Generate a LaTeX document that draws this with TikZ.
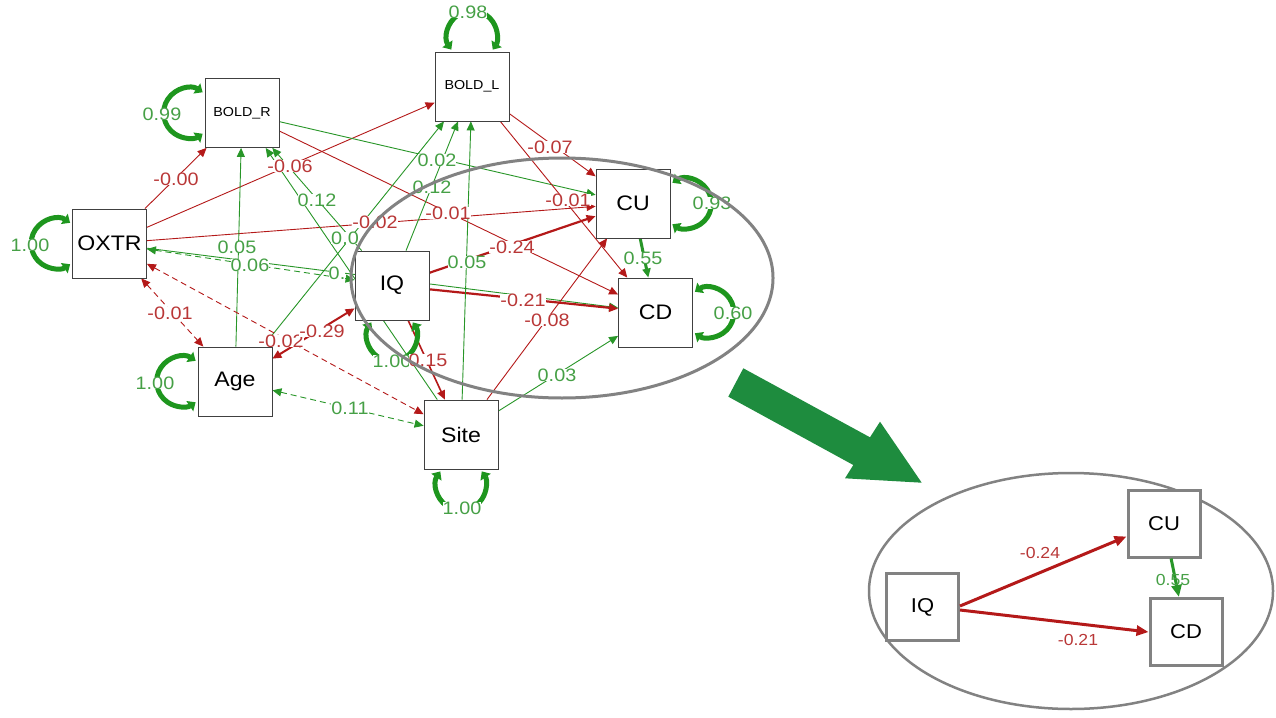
\documentclass[tikz,border=0pt]{standalone}
\usepackage{fontspec}
\setmainfont{Liberation Sans}[FakeStretch=1.1]
\usetikzlibrary{arrows.meta}
\definecolor{edgered}{RGB}{180,25,25}
\definecolor{labred}{RGB}{185,55,55}
\definecolor{edgegreen}{RGB}{40,150,40}
\definecolor{labgreen}{RGB}{70,160,70}
\definecolor{loopgreen}{RGB}{30,150,30}
\definecolor{bigarrow}{RGB}{30,140,62}
\definecolor{ellgray}{RGB}{130,130,130}
\pgfdeclarelayer{edges}
\pgfdeclarelayer{labels}
\pgfdeclarelayer{top}
\pgfsetlayers{edges,labels,main,top}
\begin{document}
\begin{tikzpicture}[x=1pt,y=-1pt,
  varbox/.style={draw=black!75, line width=0.8pt, fill=white, minimum width=74pt, minimum height=69pt, inner sep=0pt, font=\fontsize{21}{21}\selectfont},
  smallbox/.style={varbox, font=\fontsize{13}{13}\selectfont},
  insetbox/.style={draw=ellgray, line width=3pt, fill=white, minimum width=72pt, minimum height=67pt, inner sep=0pt, font=\fontsize{20}{20}\selectfont},
  regarr/.style={-{Triangle[length=9pt,width=8pt]}, line width=0.9pt},
  covarr/.style={{Triangle[length=9pt,width=8pt]}-{Triangle[length=9pt,width=8pt]}, dash pattern=on 6pt off 4pt, line width=0.9pt},
  bicov/.style={{Triangle[length=9pt,width=8pt]}-{Triangle[length=9pt,width=8pt]}},
  posedge/.style={draw=edgegreen},
  negedge/.style={draw=edgered},
  elab/.style={fill=white, inner sep=0pt, font=\fontsize{18}{18}\selectfont},
  plab/.style={elab, text=labgreen},
  nlab/.style={elab, text=labred},
  looplab/.style={fill=white, inner sep=0pt, text=labgreen, font=\fontsize{18}{18}\selectfont},
  loopst/.style={draw=loopgreen, line width=5pt, {Triangle[length=7pt,width=12pt]}-{Triangle[length=7pt,width=12pt]}},
  insetarr/.style={-{Triangle[length=12pt,width=10pt]}, line width=3pt},
  inlab/.style={inner sep=0.5pt, font=\fontsize{16}{16}\selectfont},
]
\useasboundingbox (0,0) rectangle (1276,717);
\begin{pgfonlayer}{edges}
\fill[white] (0,0) rectangle (1276,717);
\end{pgfonlayer}

% main nodes
\node[smallbox] (BR) at (242,113) {BOLD\_R};
\node[smallbox] (BL) at (472,86.5) {BOLD\_L};
\node[varbox] (OX) at (109.5,243.5) {OXTR};
\node[varbox] (AGE) at (235,381.5) {Age};
\node[varbox] (IQ) at (392,285.5) {IQ};
\node[varbox] (SITE) at (461,434.5) {Site};
\node[varbox] (CU) at (633,203.5) {CU};
\node[varbox] (CD) at (655.5,312.5) {CD};

\begin{pgfonlayer}{edges}
% regressions
\draw[regarr,negedge] (OX) -- (BR);
\draw[regarr,negedge] (OX) -- (BL);
\draw[regarr,negedge] (OX) -- (CU);
\draw[regarr,posedge] (OX) -- (CD);
\draw[regarr,posedge] (BR) -- (CU);
\draw[regarr,negedge] (BR) -- (CD);
\draw[regarr,negedge] (BL) -- (CU);
\draw[regarr,negedge] (BL) -- (CD);
\draw[regarr,negedge,line width=2.2pt] (IQ) -- (CU);
\draw[regarr,negedge,line width=2.2pt] (IQ) -- (CD);
\draw[regarr,posedge] (IQ) -- (BR);
\draw[regarr,posedge] (IQ) -- (BL);
\draw[regarr,posedge] (AGE) -- (BR);
\draw[regarr,posedge] (AGE) -- (BL);
\draw[regarr,posedge] (SITE) -- (BR);
\draw[regarr,posedge] (SITE) -- (BL);
\draw[regarr,negedge] (SITE) -- (CU);
\draw[regarr,posedge] (SITE) -- (CD);
\draw[regarr,posedge,line width=3pt] (CU) -- (CD);
\draw[regarr,negedge,line width=1.6pt] (IQ) -- (SITE);
% covariances
\draw[covarr,posedge] (OX) -- (IQ);
\draw[covarr,negedge] (OX) -- (AGE);
\draw[covarr,negedge] (OX) -- (SITE);
\draw[covarr,posedge] (AGE) -- (SITE);
\draw[bicov,negedge,line width=2pt] (AGE) -- (IQ);
% residual loops
\draw[loopst] ([shift={(-2,-20.7)}]BR.west) arc[start angle=-56,end angle=-304,radius=25];
\draw[loopst] ([shift={(-2,-20.7)}]OX.west) arc[start angle=-56,end angle=-304,radius=25];
\draw[loopst] ([shift={(-2,-20.7)}]AGE.west) arc[start angle=-56,end angle=-304,radius=25];
\draw[loopst] ([shift={(2,-20.7)}]CU.east) arc[start angle=-124,end angle=124,radius=25];
\draw[loopst] ([shift={(2,-20.7)}]CD.east) arc[start angle=-124,end angle=124,radius=25];
\draw[loopst] ([shift={(-20.7,-2)}]BL.north) arc[start angle=146,end angle=394,radius=25];
\draw[loopst] ([shift={(-20.7,2)}]IQ.south) arc[start angle=214,end angle=-34,radius=25];
\draw[loopst] ([shift={(-20.7,2)}]SITE.south) arc[start angle=214,end angle=-34,radius=25];
\end{pgfonlayer}

\begin{pgfonlayer}{labels}
\node[nlab] (l1) at (176,179) {-0.00};
\node[nlab] (l2) at (290,166) {-0.06};
\node[nlab] (l3) at (375,222) {-0.02};
\node[nlab] (l4) at (448,213) {-0.01};
\node[nlab] (l5) at (550,147) {-0.07};
\node[nlab] (l6) at (568,200) {-0.01};
\node[nlab] (l7) at (512,247) {-0.24};
\node[nlab] (l8) at (523,300) {-0.21};
\node[nlab] (l9) at (547,320) {-0.08};
\node[nlab] (l10) at (170,313) {-0.01};
\node[plab] (l11) at (437,160) {0.02};
\node[plab] (l12) at (317,200) {0.12};
\node[plab] (l13) at (432,187) {0.12};
\node[plab] (l14) at (237,247) {0.05};
\node[plab] (l15) at (250,265) {0.06};
\node[plab] (l16) at (337,273) {0.};
\node[plab] (l17) at (345,238) {0.0};
\node[plab] (l18) at (467,262) {0.05};
\node[plab] (l19) at (557,375) {0.03};
\node[plab] (l20) at (643,258) {0.55};
\node[plab] (l21) at (350,408) {0.11};
\node[nlab] (l22) at (281,341) {-0.02};
\node[nlab] (l23) at (322,331) {-0.29};
\node[looplab] (r1) at (162,114) {0.99};
\node[looplab] (r2) at (30,245) {1.00};
\node[looplab] (r3) at (155,383) {1.00};
\node[looplab] (r4) at (468,12) {0.98};
\node[looplab] (r5) at (712,203) {0.93};
\node[looplab] (r6) at (733,313) {0.60};
\node[looplab] (r7) at (392,361) {1.00};
\node[nlab] (l24) at (428,360) {0.15};
\node[looplab] (r8) at (462,508) {1.00};
\end{pgfonlayer}

\begin{pgfonlayer}{top}
\draw[ellgray, line width=3pt] (562,278) ellipse [x radius=211, y radius=120];
\fill[bigarrow] (743.3,368.3) -- (870,437.3) -- (880,421.7) -- (921.7,482.7) -- (845,478.3) -- (853.3,465) -- (728.3,396.7) -- cycle;
\end{pgfonlayer}

% inset
\draw[ellgray, line width=2.5pt] (1071,591) ellipse [x radius=202, y radius=118];
\node[insetbox] (IQ2) at (922.5,607) {IQ};
\node[insetbox] (CU2) at (1164,523.5) {CU};
\node[insetbox] (CD2) at (1186,632) {CD};
\draw[insetarr, edgered] ([yshift=1pt]IQ2.east) -- ([yshift=-13pt]CU2.west);
\draw[insetarr, edgered] ([yshift=-3pt]IQ2.east) -- (CD2.west);
\draw[insetarr, edgegreen] (CU2) -- (CD2);
\node[inlab, text=labred] (i1) at (1040,553) {-0.24};
\node[inlab, text=labred] (i2) at (1078,640) {-0.21};
\node[inlab, text=labgreen] (i3) at (1173,580) {0.55};
\end{tikzpicture}
\end{document}
